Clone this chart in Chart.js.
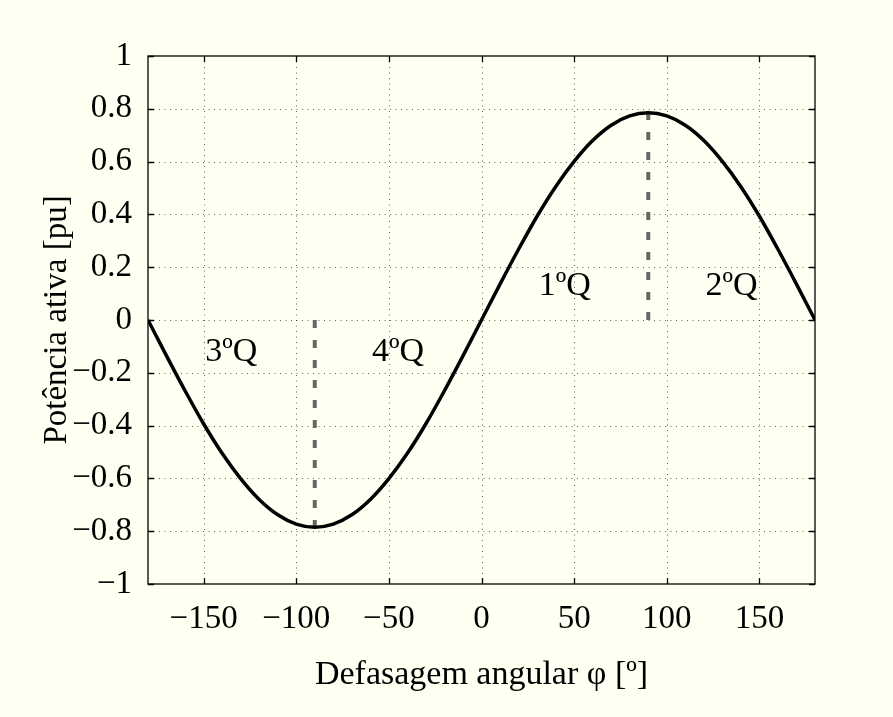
<!DOCTYPE html>
<html lang="pt">
<head>
  <meta charset="UTF-8"/>
  <title>Potência ativa x defasagem angular</title>
  <script src="https://cdn.jsdelivr.net/npm/chart.js"></script>
  <style>
    html, body { margin: 0; padding: 0; background: #fffff2; }
    canvas { display: block; }
  </style>
</head>
<body>
  <canvas id="pCurve" width="893" height="717"></canvas>
  <script>
    const angles = [-180, -170, -160, -150, -140, -130, -120, -110, -100, -90,
                    -80, -70, -60, -50, -40, -30, -20, -10, 0,
                    10, 20, 30, 40, 50, 60, 70, 80, 90,
                    100, 110, 120, 130, 140, 150, 160, 170, 180];
    const power = [0, -0.136, -0.268, -0.393, -0.505, -0.601, -0.680, -0.738, -0.773, -0.785,
                   -0.773, -0.738, -0.680, -0.601, -0.505, -0.393, -0.268, -0.136, 0,
                   0.136, 0.268, 0.393, 0.505, 0.601, 0.680, 0.738, 0.773, 0.785,
                   0.773, 0.738, 0.680, 0.601, 0.505, 0.393, 0.268, 0.136, 0];

    // linhas tracejadas nos extremos (de zero até o pico)
    const markAngles = [-90, 90];
    const markPeaks = [-0.785, 0.785];

    // rótulos dos quadrantes
    const quadText = ['3ºQ', '4ºQ', '1ºQ', '2ºQ'];
    const quadX = [-135, -45, 45, 135];
    const quadY = [-0.12, -0.12, 0.13, 0.13];

    const xTicks = [-150, -100, -50, 0, 50, 100, 150];
    const yTicks = [-1, -0.8, -0.6, -0.4, -0.2, 0, 0.2, 0.4, 0.6, 0.8, 1];

    const FONT = 'Liberation Serif, Times New Roman, serif';
    const BG = '#fffff2';
    const minus = v => String(v).replace('-', '\u2212');

    const curve = angles.map((a, i) => ({ x: a, y: power[i] }));
    const markSets = markAngles.map((a, i) => ({
      data: [{ x: a, y: 0 }, { x: a, y: markPeaks[i] }],
      borderColor: '#666666',
      borderWidth: 4,
      borderDash: [8, 12],
      pointRadius: 0
    }));

    // fundo, grade pontilhada, moldura com ticks internos e rótulos
    const frame = {
      id: 'frame',
      beforeDraw(chart) {
        const c = chart.ctx;
        c.save();
        c.fillStyle = BG;
        c.fillRect(0, 0, chart.width, chart.height);
        c.restore();
      },
      beforeDatasetsDraw(chart) {
        const c = chart.ctx, a = chart.chartArea;
        const sx = chart.scales.x, sy = chart.scales.y;
        c.save();
        c.strokeStyle = 'rgba(0,0,0,0.6)';
        c.lineWidth = 1;
        c.setLineDash([1, 4.5]);
        xTicks.forEach(v => {
          const px = Math.round(sx.getPixelForValue(v)) + 0.5;
          c.beginPath(); c.moveTo(px, a.top); c.lineTo(px, a.bottom); c.stroke();
        });
        yTicks.slice(1, -1).forEach(v => {
          const py = Math.round(sy.getPixelForValue(v)) + 0.5;
          c.beginPath(); c.moveTo(a.left, py); c.lineTo(a.right, py); c.stroke();
        });
        c.restore();
      },
      afterDatasetsDraw(chart) {
        const c = chart.ctx, a = chart.chartArea;
        const sx = chart.scales.x, sy = chart.scales.y;
        const tl = 6;
        c.save();
        c.strokeStyle = '#000';
        c.lineWidth = 1.3;
        c.strokeRect(a.left, a.top, a.right - a.left, a.bottom - a.top);
        c.beginPath();
        xTicks.forEach(v => {
          const px = Math.round(sx.getPixelForValue(v)) + 0.5;
          c.moveTo(px, a.bottom); c.lineTo(px, a.bottom - tl);
          c.moveTo(px, a.top); c.lineTo(px, a.top + tl);
        });
        yTicks.forEach(v => {
          const py = Math.round(sy.getPixelForValue(v)) + 0.5;
          c.moveTo(a.left, py); c.lineTo(a.left + tl, py);
          c.moveTo(a.right, py); c.lineTo(a.right - tl, py);
        });
        c.stroke();

        c.fillStyle = '#000';
        c.font = '34px ' + FONT;
        c.textAlign = 'center';
        c.textBaseline = 'middle';
        quadText.forEach((t, i) => {
          c.fillText(t, sx.getPixelForValue(quadX[i]), sy.getPixelForValue(quadY[i]));
        });
        c.restore();
      }
    };

    new Chart(document.getElementById('pCurve'), {
      type: 'line',
      data: {
        datasets: [{
          data: curve,
          borderColor: '#000',
          borderWidth: 3.5,
          pointRadius: 0,
          cubicInterpolationMode: 'monotone'
        }, ...markSets]
      },
      options: {
        responsive: false,
        animation: false,
        events: [],
        layout: { padding: { top: 56, right: 78, left: 0, bottom: 0 } },
        plugins: { legend: { display: false }, tooltip: { enabled: false } },
        scales: {
          x: {
            type: 'linear',
            min: -180,
            max: 180,
            afterFit: s => { s.height = 133; },
            afterBuildTicks: s => { s.ticks = xTicks.map(v => ({ value: v })); },
            grid: { display: false },
            border: { display: false },
            ticks: {
              padding: 8,
              color: '#000',
              font: { family: FONT, size: 33 },
              callback: v => minus(v)
            },
            title: {
              display: true,
              text: 'Defasagem angular φ [º]',
              color: '#000',
              font: { family: FONT, size: 34 },
              padding: { top: 0, bottom: 22 }
            }
          },
          y: {
            type: 'linear',
            min: -1,
            max: 1,
            afterFit: s => { s.width = 148; },
            afterBuildTicks: s => { s.ticks = yTicks.map(v => ({ value: v })); },
            grid: { display: false },
            border: { display: false },
            ticks: {
              padding: 8,
              color: '#000',
              font: { family: FONT, size: 33 },
              callback: v => minus(v)
            },
            title: {
              display: true,
              text: 'Potência ativa [pu]',
              color: '#000',
              font: { family: FONT, size: 33 },
              padding: { top: 38, bottom: 0 }
            }
          }
        }
      },
      plugins: [frame]
    });
  </script>
</body>
</html>
